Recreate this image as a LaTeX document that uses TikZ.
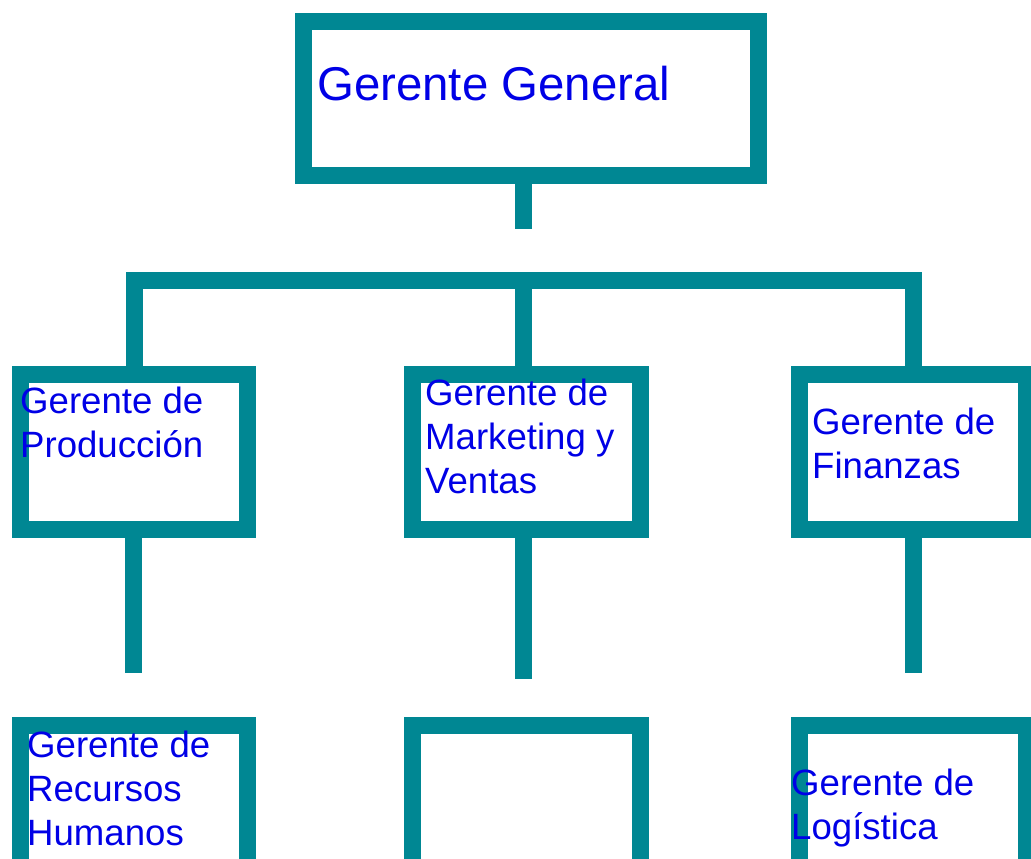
\documentclass[tikz,border=0pt]{standalone}
\usepackage{fontspec}
\setmainfont{Liberation Sans}
\definecolor{teal2}{RGB}{0,135,147}
\definecolor{txtblue}{RGB}{0,0,230}
\tikzset{
  orgbox/.style={draw=teal2, line width=17pt, fill=white, inner sep=0pt, rectangle},
  conn/.style={draw=teal2, line width=17pt, line cap=butt, line join=miter},
  lbl/.style={text=txtblue, inner sep=0pt, anchor=base west, align=left, font=\fontsize{36.6}{44}\selectfont},
  biglbl/.style={text=txtblue, inner sep=0pt, anchor=base west, font=\fontsize{47.4}{56}\selectfont}
}
\begin{document}
\begin{tikzpicture}[x=1pt,y=-1pt]
\useasboundingbox (0,0) rectangle (1031,859);
\clip (0,0) rectangle (1031,859);
\fill[white] (0,0) rectangle (1031,859);
% boxes
\node[orgbox, minimum width=455pt, minimum height=154pt] (gg) at (531,98.5) {};
\node[orgbox, minimum width=227pt, minimum height=155pt] (prod) at (134,452) {};
\node[orgbox, minimum width=228pt, minimum height=155pt] (mkt) at (526.5,452) {};
\node[orgbox, minimum width=227pt, minimum height=155pt] (fin) at (913,452) {};
\node[orgbox, minimum width=227pt, minimum height=175pt] (rh) at (134,813) {};
\node[orgbox, minimum width=228pt, minimum height=175pt] (mid) at (526.5,813) {};
\node[orgbox, minimum width=227pt, minimum height=175pt] (log) at (913,813) {};
% coordinates
\coordinate (stem) at (523.5,229);
\coordinate (bar) at (523.5,280.5);
\coordinate (e1) at (133.5,673);
\coordinate (e2) at (523.5,679);
\coordinate (e3) at (913.5,673);
% connectors
\draw[conn] (stem |- gg.south) -- (stem);
\draw[conn] (prod.north) |- (bar) -| (fin.north);
\draw[conn] (bar) -- (bar |- mkt.north);
\draw[conn] (e1 |- prod.south) -- (e1);
\draw[conn] (e2 |- mkt.south) -- (e2);
\draw[conn] (e3 |- fin.south) -- (e3);
% texts (anchor at baseline of last line)
\node[biglbl] (tgg) at (317,100) {Gerente General};
\node[lbl] (tprod) at (20,457) {Gerente de\\Producción};
\node[lbl] (tmkt) at (425,493) {Gerente de\\Marketing y\\Ventas};
\node[lbl] (tfin) at (812,478) {Gerente de\\Finanzas};
\node[lbl] (trh) at (27,845) {Gerente de\\Recursos\\Humanos};
\node[lbl] (tlog) at (791,839) {Gerente de\\Logística};
\end{tikzpicture}
\end{document}
